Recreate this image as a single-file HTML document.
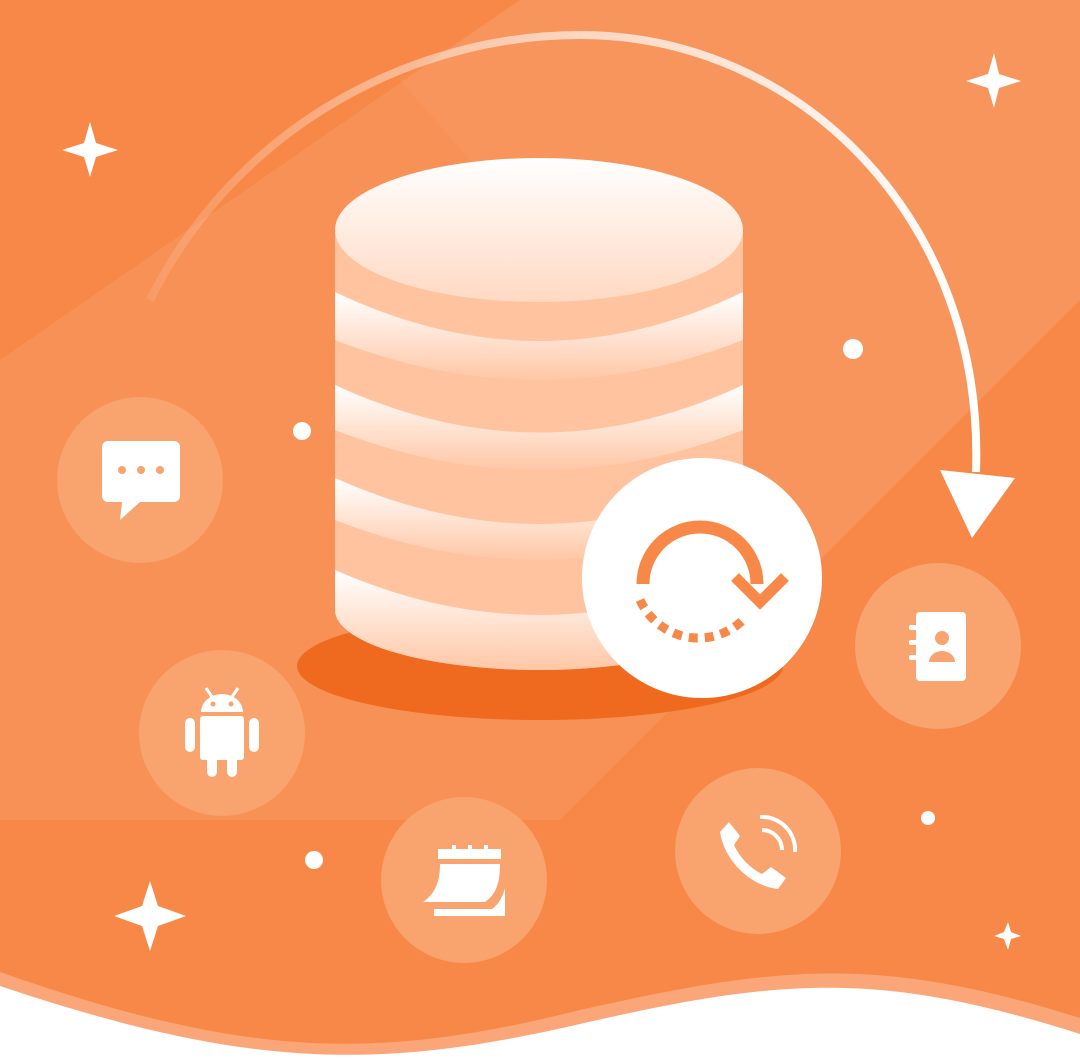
<!DOCTYPE html>
<html><head><meta charset="utf-8"><style>html,body{margin:0;padding:0;background:#fff}svg{display:block}</style></head>
<body>
<svg width="1080" height="1061" viewBox="0 0 1080 1061" xmlns="http://www.w3.org/2000/svg">
<defs>
<linearGradient id="arc" x1="0" y1="0" x2="1" y2="0">
<stop offset="0" stop-color="#fff" stop-opacity="0.1"/><stop offset="0.5" stop-color="#fff" stop-opacity="0.6"/><stop offset="1" stop-color="#fff" stop-opacity="1"/></linearGradient>
<linearGradient id="band" x1="0" y1="0" x2="0" y2="1">
<stop offset="0" stop-color="#fff"/><stop offset="1" stop-color="#FFC7A6"/></linearGradient>
<linearGradient id="top" x1="0" y1="0" x2="0" y2="1">
<stop offset="0" stop-color="#fff"/><stop offset="1" stop-color="#FFD9C2"/></linearGradient>
</defs>
<rect width="1080" height="1061" fill="#F78848"/>
<polygon points="520,0 1080,0 1080,300 560,820 0,820 0,360" fill="#fff" opacity="0.08"/>
<polygon points="520,0 1080,0 1080,300 820,560 400,80" fill="#fff" opacity="0.04"/>
<path d="M150,300 C240,120 420,35 580,35 C800,35 985,220 976,472" fill="none" stroke="url(#arc)" stroke-width="8"/>
<polygon points="940,470 1015,478 972,538" fill="#fff"/>
<ellipse cx="540" cy="666" rx="243" ry="54" fill="#EF6A1E"/>
<path d="M335,230 L335,610 A204,60 0 0 0 743,610 L743,230 Z" fill="#FFC3A0"/>
<path d="M335,570 Q540,660 743,570 L743,610 A204,60 0 0 1 335,610 Z" fill="url(#band)"/>
<path d="M335,478 Q540,570 743,478 L743,520 Q540,600 335,520 Z" fill="url(#band)"/>
<path d="M335,385 Q540,480 743,385 L743,430 Q540,510 335,430 Z" fill="url(#band)"/>
<path d="M335,292 Q540,390 743,292 L743,340 Q540,420 335,340 Z" fill="url(#band)"/>
<ellipse cx="539" cy="230" rx="204" ry="72" fill="url(#top)"/>
<circle cx="702" cy="578" r="120" fill="#fff"/>
<path d="M643,584 A57,57 0 1 1 757,584" fill="none" stroke="#F78848" stroke-width="13"/>
<path d="M735,577 L760,602 L785,577" fill="none" stroke="#F78848" stroke-width="11"/>
<path d="M640,600 A64,64 0 0 0 745,618" fill="none" stroke="#F78848" stroke-width="9" stroke-dasharray="9,7"/>
<g fill="#F9A36E">
<circle cx="140" cy="480" r="83"/><circle cx="222" cy="733" r="83"/><circle cx="464" cy="880" r="83"/><circle cx="758" cy="851" r="83"/><circle cx="938" cy="646" r="83"/></g>
<path d="M108,441 H174 a6,6 0 0 1 6,6 V496 a6,6 0 0 1 -6,6 H140 L120,520 L122,502 H108 a6,6 0 0 1 -6,-6 V447 a6,6 0 0 1 6,-6Z" fill="#fff"/>
<g fill="#F9A36E"><circle cx="122" cy="470" r="4"/><circle cx="141" cy="470" r="4"/><circle cx="160" cy="470" r="4"/></g>
<g fill="#fff"><path d="M201,712 a21,18 0 0 1 42,0Z"/><rect x="200" y="716" width="44" height="44" rx="3"/><rect x="185" y="718" width="10" height="34" rx="5"/><rect x="249" y="718" width="10" height="34" rx="5"/><rect x="207" y="755" width="10" height="22" rx="5"/><rect x="227" y="755" width="10" height="22" rx="5"/>
<path d="M206,688 l8,12 M238,688 l-8,12" stroke="#fff" stroke-width="3"/></g>
<circle cx="213" cy="704" r="2.5" fill="#F9A36E"/><circle cx="231" cy="704" r="2.5" fill="#F9A36E"/>
<g fill="#fff"><rect x="438" y="849" width="63" height="10"/><path d="M440,864 H500 C500,885 495,895 485,902 H423 C433,895 440,885 440,864Z"/><path d="M505,888 V916 H434 V909 H492 C499,904 503,896 505,888Z"/>
<rect x="452" y="845" width="4" height="8"/><rect x="468" y="845" width="4" height="8"/><rect x="484" y="845" width="4" height="8"/></g>
<path d="M729,822 L740,836 L734,845 C740,858 750,868 762,874 L771,867 L786,878 L778,889 C750,886 724,860 720,832Z" fill="#fff"/>
<path d="M762,830 A20,20 0 0 1 782,850 M760,817 A33,33 0 0 1 795,852" fill="none" stroke="#fff" stroke-width="4"/>
<rect x="916" y="612" width="50" height="69" rx="4" fill="#fff"/>
<g fill="#fff"><rect x="909" y="625" width="12" height="5" rx="2"/><rect x="909" y="640" width="12" height="5" rx="2"/><rect x="909" y="655" width="12" height="5" rx="2"/></g>
<circle cx="942" cy="638" r="7" fill="#F9A36E"/><path d="M929,662 a13,11 0 0 1 26,0Z" fill="#F9A36E"/>
<g fill="#fff">
<path d="M90,122 L96,143 L118,150 L96,157 L90,177 L84,157 L62,150 L84,143Z"/>
<path d="M994,53 L999,74 L1021,81 L999,88 L994,108 L988,88 L966,81 L988,74Z"/>
<path d="M150,881 L158,906 L186,916 L158,926 L150,951 L142,926 L114,916 L142,906Z"/>
<path d="M1008,922 L1011,932 L1021,936 L1011,939 L1008,950 L1004,939 L994,936 L1004,932Z"/>
<circle cx="853" cy="349" r="10"/><circle cx="302" cy="431" r="9"/><circle cx="314" cy="860" r="9"/><circle cx="928" cy="818" r="7"/>
</g>
<path d="M0,972 C250,1060 380,1060 580,1010 C780,965 880,955 1080,1018 L1080,1061 L0,1061Z" fill="#FBA679"/>
<path d="M0,986 C250,1070 380,1070 580,1024 C780,978 880,970 1080,1034 L1080,1061 L0,1061Z" fill="#fff"/>
</svg>
</body></html>
